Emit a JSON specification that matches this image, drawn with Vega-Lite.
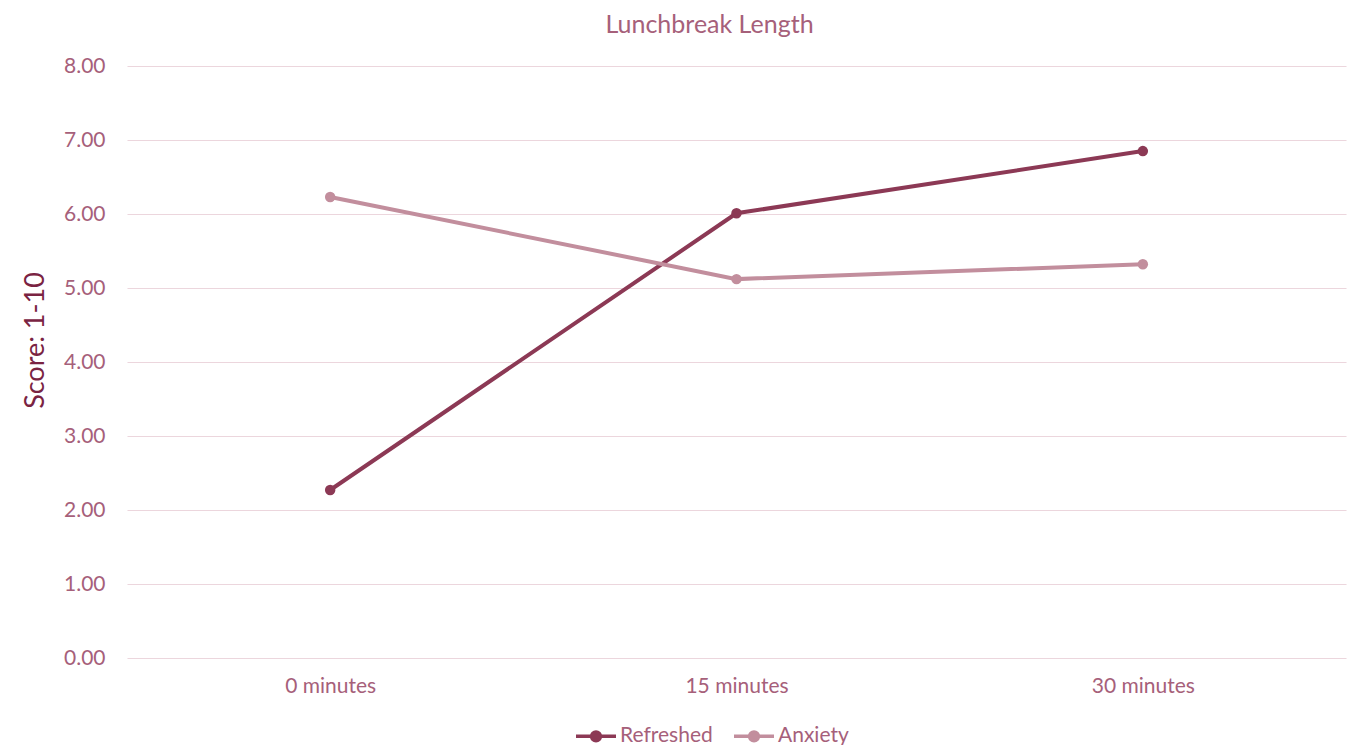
{
  "$schema": "https://vega.github.io/schema/vega-lite/v6.json",
  "autosize": "none",
  "width": 1219,
  "height": 592,
  "padding": {"left": 127, "top": 66, "right": 10, "bottom": 87},
  "background": "white",
  "title": {
    "text": "Lunchbreak Length",
    "font": "Lato",
    "fontSize": 25,
    "fontWeight": "normal",
    "color": "#A6607A",
    "anchor": "middle",
    "dx": -27,
    "offset": 17
  },
  "data": {
    "values": [
      {"break": "0 minutes", "series": "Refreshed", "score": 2.27},
      {"break": "15 minutes", "series": "Refreshed", "score": 6.01},
      {"break": "30 minutes", "series": "Refreshed", "score": 6.85},
      {"break": "0 minutes", "series": "Anxiety", "score": 6.23},
      {"break": "15 minutes", "series": "Anxiety", "score": 5.12},
      {"break": "30 minutes", "series": "Anxiety", "score": 5.32}
    ]
  },
  "config": {
    "view": {"stroke": null},
    "axis": {"labelFont": "Lato", "titleFont": "Lato", "domain": false, "ticks": false}
  },
  "encoding": {
    "x": {
      "field": "break",
      "type": "nominal",
      "sort": ["0 minutes", "15 minutes", "30 minutes"],
      "scale": {"paddingInner": 0, "paddingOuter": 0},
      "axis": {
        "title": null,
        "labelAngle": 0,
        "labelFontSize": 21,
        "labelColor": "#A6607A",
        "labelPadding": 17,
        "grid": false
      }
    },
    "y": {
      "field": "score",
      "type": "quantitative",
      "scale": {"domain": [0, 8], "nice": false},
      "axis": {
        "title": "Score: 1-10",
        "titleFontSize": 27,
        "titleFontWeight": "normal",
        "titleColor": "#7A2342",
        "titleAngle": -90,
        "titleAlign": "center",
        "titleBaseline": "middle",
        "titleX": -92,
        "titleY": 274,
        "titleLimit": 400,
        "format": ".2f",
        "values": [0, 1, 2, 3, 4, 5, 6, 7, 8],
        "labelOverlap": false,
        "labelFontSize": 21,
        "labelColor": "#A6607A",
        "labelPadding": 22,
        "gridColor": "#ECD6DD",
        "gridWidth": 1.2
      }
    },
    "color": {
      "field": "series",
      "type": "nominal",
      "sort": ["Refreshed", "Anxiety"],
      "scale": {"domain": ["Refreshed", "Anxiety"], "range": ["#8C3955", "#C28E9D"]},
      "legend": {
        "title": null,
        "orient": "none",
        "direction": "horizontal",
        "legendX": 447,
        "legendY": 648,
        "padding": 0,
        "labelFont": "Lato",
        "labelFontSize": 21,
        "labelColor": "#A6607A",
        "labelOffset": 2,
        "columnPadding": 14,
        "symbolType": "M-1,0H1M0.22,0A0.22,0.22 0 1,1 -0.22,0A0.22,0.22 0 1,1 0.22,0Z",
        "symbolSize": 1600,
        "symbolStrokeWidth": 3.5,
        "encode": {
          "symbols": {
            "update": {
              "fill": {"scale": "color", "field": "value"},
              "stroke": {"scale": "color", "field": "value"},
              "opacity": {"value": 1}
            }
          }
        }
      }
    }
  },
  "layer": [
    {"mark": {"type": "line", "strokeWidth": 4}},
    {"mark": {"type": "point", "filled": true, "size": 110, "opacity": 1}}
  ]
}
